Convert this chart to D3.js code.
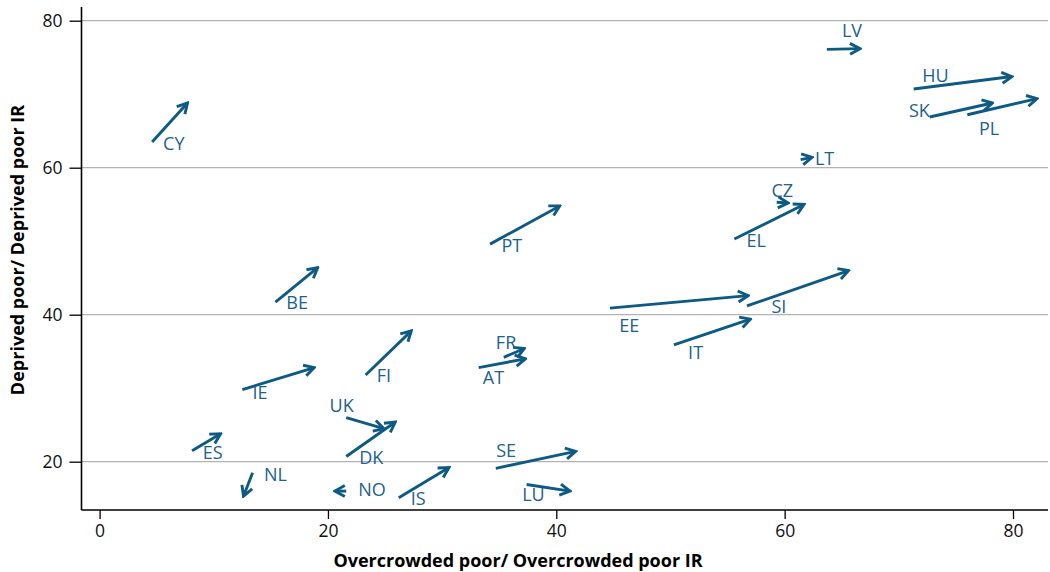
<!DOCTYPE html>
<html>
<head>
<meta charset="utf-8">
<script src="https://cdn.jsdelivr.net/npm/d3@7"></script>
<style>
  html, body { margin: 0; padding: 0; background: #fff; }
  svg { display: block; }
  text { font-family: "Open Sans", "Noto Sans", sans-serif; }
</style>
</head>
<body>
<svg id="chart" width="1050" height="572"></svg>
<script>
// Country codes
const countries = ["CY","BE","IE","ES","NL","NO","UK","DK","FI","IS","FR","AT","SE","LU","PT","EE","SI","IT","EL","CZ","LT","LV","HU","SK","PL"];
// Overcrowded poor / Overcrowded poor IR: start and end of each arrow
const overStart = [4.6,15.4,12.5,8.1,13.4,21.6,21.6,21.6,23.3,26.2,35.4,33.2,34.7,37.4,34.2,44.7,56.7,50.3,55.6,59.3,61.4,63.7,71.3,72.7,76.0];
const overEnd   = [7.7,19.1,18.8,10.6,12.6,20.6,24.9,25.9,27.3,30.6,37.2,37.3,41.7,41.2,40.3,56.8,65.6,57.0,61.7,60.3,62.4,66.6,79.9,78.2,82.1];
// Deprived poor / Deprived poor IR: start and end of each arrow
const depStart  = [63.5,41.7,29.8,21.5,18.5,16.0,26.0,20.7,31.8,15.1,34.2,32.8,19.1,16.9,49.6,40.9,41.2,35.9,50.3,55.3,61.1,76.1,70.7,66.9,67.2];
const depEnd    = [68.8,46.4,32.8,23.8,15.3,16.0,24.5,25.4,37.8,19.2,35.4,34.0,21.4,16.0,54.8,42.6,46.0,39.4,55.0,55.2,61.4,76.2,72.4,68.8,69.4];
// Where each country code is written (data units)
const labelOver = [6.5,17.3,14.05,9.9,15.4,23.85,21.2,23.8,24.9,27.9,35.6,34.5,35.6,38.0,36.1,46.4,59.5,52.2,57.5,59.8,63.5,65.9,73.2,71.8,77.9];
const labelDep  = [63.3,41.7,29.5,21.3,18.3,16.3,27.7,20.6,31.8,15.05,36.3,31.5,21.6,15.6,49.45,38.6,41.2,34.9,50.2,57.0,61.3,78.7,72.6,67.8,65.4];

const xTicks = [0, 20, 40, 60, 80];
const yTicks = [20, 40, 60, 80];

const xTitle = "Overcrowded poor/ Overcrowded poor IR";
const yTitle = "Deprived poor/ Deprived poor IR";

const arrowColor = "#0d5a84";
const labelColor = "#1b628e";

const svg = d3.select("#chart");

// Plot frame
const frame = { left: 81.5, right: 1048, top: 7, bottom: 510 };

const x = d3.scaleLinear().domain([0, 80]).range([99.6, 1013]);
const y = d3.scaleLinear().domain([20, 80]).range([461.7, 20.7]);

// Horizontal gridlines
svg.append("g")
  .selectAll("line")
  .data(yTicks)
  .join("line")
  .attr("x1", frame.left)
  .attr("x2", frame.right)
  .attr("y1", d => y(d))
  .attr("y2", d => y(d))
  .attr("stroke", "#b3b3b3")
  .attr("stroke-width", 1.3);

// Axes
const xAxis = svg.append("g")
  .attr("transform", `translate(0,${frame.bottom})`)
  .call(d3.axisBottom(x).tickValues(xTicks).tickSize(9).tickSizeOuter(0).tickPadding(6));
const yAxis = svg.append("g")
  .attr("transform", `translate(${frame.left},0)`)
  .call(d3.axisLeft(y).tickValues(yTicks).tickSize(12).tickSizeOuter(0).tickPadding(7));

[xAxis, yAxis].forEach(g => {
  g.select(".domain").remove();
  g.selectAll(".tick line").attr("stroke", "#000").attr("stroke-width", 1.3);
  g.selectAll(".tick text")
    .attr("fill", "#111")
    .style("font-family", "'Open Sans', sans-serif")
    .style("font-size", "17.5px");
});

svg.append("line")
  .attr("x1", frame.left).attr("x2", frame.right)
  .attr("y1", frame.bottom).attr("y2", frame.bottom)
  .attr("stroke", "#000").attr("stroke-width", 1.6);
svg.append("line")
  .attr("x1", frame.left).attr("x2", frame.left)
  .attr("y1", frame.top).attr("y2", frame.bottom)
  .attr("stroke", "#000").attr("stroke-width", 1.6);

// Axis titles
svg.append("text")
  .attr("x", 518)
  .attr("y", 560)
  .attr("text-anchor", "middle")
  .attr("dominant-baseline", "central")
  .style("font-size", "18px")
  .style("font-weight", "bold")
  .attr("fill", "#000")
  .text(xTitle);

svg.append("text")
  .attr("transform", "translate(17,250) rotate(-90)")
  .attr("text-anchor", "middle")
  .attr("dominant-baseline", "central")
  .style("font-size", "18px")
  .style("font-weight", "bold")
  .attr("fill", "#000")
  .text(yTitle);

// Arrowhead marker
svg.append("defs").append("marker")
  .attr("id", "head")
  .attr("markerUnits", "userSpaceOnUse")
  .attr("viewBox", "-13 -8 15 16")
  .attr("markerWidth", 15)
  .attr("markerHeight", 16)
  .attr("refX", 0)
  .attr("refY", 0)
  .attr("orient", "auto")
  .append("path")
  .attr("d", "M-10,-5.5L0,0L-10,5.5")
  .attr("fill", "none")
  .attr("stroke", arrowColor)
  .attr("stroke-width", 2.9)
  .attr("stroke-linejoin", "miter")
  .attr("stroke-linecap", "butt");

const rows = countries.map((c, i) => ({
  c,
  x0: overStart[i], y0: depStart[i],
  x1: overEnd[i], y1: depEnd[i],
  lx: labelOver[i], ly: labelDep[i]
}));

// Arrows
svg.append("g")
  .selectAll("line")
  .data(rows)
  .join("line")
  .attr("x1", d => x(d.x0))
  .attr("y1", d => y(d.y0))
  .attr("x2", d => x(d.x1))
  .attr("y2", d => y(d.y1))
  .attr("stroke", arrowColor)
  .attr("stroke-width", 2.9)
  .attr("marker-end", "url(#head)");

// Country labels
svg.append("g")
  .selectAll("text")
  .data(rows)
  .join("text")
  .attr("x", d => x(d.lx))
  .attr("y", d => y(d.ly))
  .attr("text-anchor", "middle")
  .attr("dominant-baseline", "central")
  .style("font-size", "18px")
  .attr("fill", labelColor)
  .text(d => d.c);
</script>
</body>
</html>
